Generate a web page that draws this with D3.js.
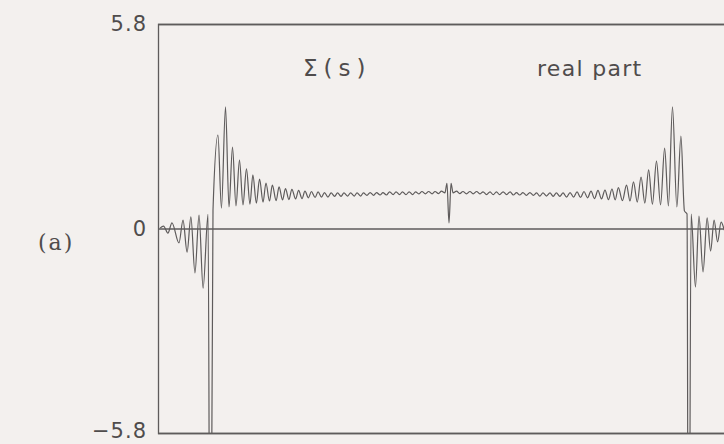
<!DOCTYPE html>
<html>
<head>
<meta charset="utf-8">
<script src="https://cdn.jsdelivr.net/npm/d3@7/dist/d3.min.js"></script>
<style>
  html, body { margin: 0; padding: 0; background: #f3f0ee; }
  svg { display: block; }
</style>
</head>
<body>
<svg id="chart" width="724" height="444"></svg>
<script>
// Sampled abscissa s (unlabelled axis, centred on 0) and the real part of Σ(s).
// The two poles near s = ±0.82 run far below the frame; they are given a
// large negative value and are cut off by the plot clip.
const sValues = [
  -0.993, -0.981, -0.966, -0.952, -0.928, -0.914, -0.900, -0.887, -0.873, -0.859,
  -0.845, -0.828, -0.821, -0.819, -0.811, -0.794, -0.782, -0.768, -0.756, -0.744,
  -0.732, -0.720, -0.708, -0.696, -0.684, -0.674, -0.662, -0.651, -0.639, -0.629,
  -0.617, -0.607, -0.594, -0.584, -0.572, -0.562, -0.550, -0.540, -0.527, -0.517,
  -0.505, -0.495, -0.483, -0.473, -0.460, -0.450, -0.438, -0.428, -0.416, -0.405,
  -0.393, -0.383, -0.371, -0.361, -0.349, -0.338, -0.326, -0.316, -0.304, -0.294,
  -0.282, -0.271, -0.259, -0.249, -0.237, -0.227, -0.215, -0.204, -0.192, -0.182,
  -0.170, -0.160, -0.148, -0.137, -0.125, -0.115, -0.103, -0.093, -0.081, -0.070,
  -0.058, -0.048, -0.036, -0.026, -0.014, -0.007, 0.000, 0.007, 0.014,
  0.026, 0.037, 0.048, 0.060, 0.072, 0.083, 0.095, 0.106, 0.117, 0.129,
  0.141, 0.152, 0.163, 0.174, 0.186, 0.198, 0.210, 0.221, 0.232, 0.243,
  0.254, 0.266, 0.278, 0.290, 0.301, 0.312, 0.323, 0.335, 0.347, 0.358,
  0.369, 0.381, 0.392, 0.404, 0.416, 0.428, 0.440, 0.452, 0.464, 0.476,
  0.488, 0.500, 0.512, 0.524, 0.536, 0.548, 0.560, 0.571, 0.582, 0.596,
  0.610, 0.622, 0.634, 0.647, 0.660, 0.673, 0.686, 0.699, 0.713, 0.727,
  0.741, 0.754, 0.768, 0.783, 0.797, 0.809, 0.818, 0.8225, 0.8245, 0.832,
  0.847, 0.859, 0.873, 0.887, 0.899, 0.911, 0.923, 0.935, 0.952, 0.966,
  0.983, 0.993
];
const realPart = [
  0.01, 0.07, -0.13, 0.16, -0.41, 0.24, -0.67, 0.33, -1.26, 0.38,
  -1.69, 0.40, -12, -12, 0.52, 2.65, 0.58, 3.45, 0.61, 2.31,
  0.64, 1.94, 0.67, 1.69, 0.69, 1.52, 0.72, 1.40, 0.75, 1.29,
  0.78, 1.23, 0.79, 1.18, 0.81, 1.13, 0.82, 1.11, 0.84, 1.08,
  0.85, 1.06, 0.87, 1.05, 0.88, 1.04, 0.89, 1.02, 0.89, 1.01,
  0.91, 1.01, 0.91, 1.01, 0.92, 1.01, 0.92, 1.01, 0.92, 1.01,
  0.94, 1.02, 0.94, 1.02, 0.95, 1.02, 0.95, 1.04, 0.96, 1.04,
  0.96, 1.04, 0.96, 1.04, 0.96, 1.04, 0.98, 1.05, 0.98, 1.05,
  0.98, 1.05, 0.99, 1.06, 1.01, 1.28, 0.16, 1.28, 1.01,
  1.06, 0.99, 1.05, 0.98, 1.05, 0.98, 1.05, 0.98, 1.04, 0.96,
  1.04, 0.96, 1.04, 0.96, 1.04, 0.96, 1.04, 0.95, 1.02, 0.95,
  1.02, 0.94, 1.02, 0.94, 1.01, 0.92, 1.01, 0.92, 1.01, 0.91,
  1.01, 0.91, 1.01, 0.89, 1.02, 0.89, 1.04, 0.88, 1.05, 0.87,
  1.06, 0.85, 1.08, 0.84, 1.09, 0.82, 1.12, 0.81, 1.16, 0.79,
  1.23, 0.78, 1.32, 0.75, 1.46, 0.72, 1.66, 0.69, 1.91, 0.67,
  2.28, 0.64, 3.45, 0.61, 2.62, 0.50, 0.41, -12, -12, 0.41,
  -1.66, 0.35, -1.23, 0.30, -0.64, 0.24, -0.38, 0.18, -0.13, 0.16,
  -0.01, 0.01
];
const yTicks = [5.8, 0, -5.8];
const yTickLabels = ["5.8", "0", "\u22125.8"];
const panelLabel = "(a)";
const functionLabel = "\u03A3(s)";
const partLabel = "real part";

const svg = d3.select("#chart");
const margin = { left: 158, top: 24, bottom: 11 };
const plotRight = 740;           // frame continues past the window edge
const H = +svg.attr("height");

const x = d3.scaleLinear().domain([-1, 1]).range([margin.left, plotRight]);
const y = d3.scaleLinear().domain([-5.8, 5.8]).range([H - margin.bottom, margin.top]);

const ink = "#5e5b5b";
const textInk = "#4f4c4c";

// clip region for the curve
svg.append("clipPath").attr("id", "plot-clip")
  .append("rect")
  .attr("x", x(-1)).attr("y", y(5.8))
  .attr("width", x(1) - x(-1)).attr("height", y(-5.8) - y(5.8));

// left axis: its domain is the left frame side, its ticks run across the plot
// and form the top edge, the zero line and the bottom edge
const yAxis = d3.axisLeft(y)
  .tickValues(yTicks)
  .tickSize(-(plotRight - margin.left))
  .tickPadding(11)
  .tickFormat((d, i) => yTickLabels[i]);

const gAxis = svg.append("g")
  .attr("transform", `translate(${margin.left},0)`)
  .call(yAxis);
gAxis.select(".domain").attr("stroke", ink).attr("stroke-width", 1.3);
gAxis.selectAll(".tick line").attr("stroke", ink).attr("stroke-width", 1.3);
gAxis.selectAll(".tick text")
  .attr("fill", textInk)
  .attr("dy", d => d < 0 ? "0.22em" : "0.32em")   // keep the lowest label inside the window
  .style("font-family", "'DejaVu Sans', sans-serif")
  .style("font-size", "21px")
  .style("letter-spacing", "1px");

// the curve
const pts = sValues.map((s, i) => [s, realPart[i]]);
const line = d3.line()
  .x(d => x(d[0]))
  .y(d => y(d[1]))
  .curve(d3.curveMonotoneX);

svg.append("path")
  .datum(pts)
  .attr("clip-path", "url(#plot-clip)")
  .attr("fill", "none")
  .attr("stroke", ink)
  .attr("stroke-width", 1.2)
  .attr("stroke-linejoin", "round")
  .attr("d", line);

// labels
svg.append("text")
  .attr("x", 303).attr("y", 76)
  .attr("fill", textInk)
  .style("font-family", "'DejaVu Sans', sans-serif")
  .style("font-size", "23px")
  .style("letter-spacing", "6px")
  .text(functionLabel);

svg.append("text")
  .attr("x", 537).attr("y", 76)
  .attr("fill", textInk)
  .style("font-family", "'DejaVu Sans', sans-serif")
  .style("font-size", "22px")
  .style("letter-spacing", "1.3px")
  .text(partLabel);

svg.append("text")
  .attr("x", 38).attr("y", 250)
  .attr("fill", textInk)
  .style("font-family", "'DejaVu Serif', serif")
  .style("font-size", "22px")
  .style("letter-spacing", "2px")
  .text(panelLabel);
</script>
</body>
</html>
